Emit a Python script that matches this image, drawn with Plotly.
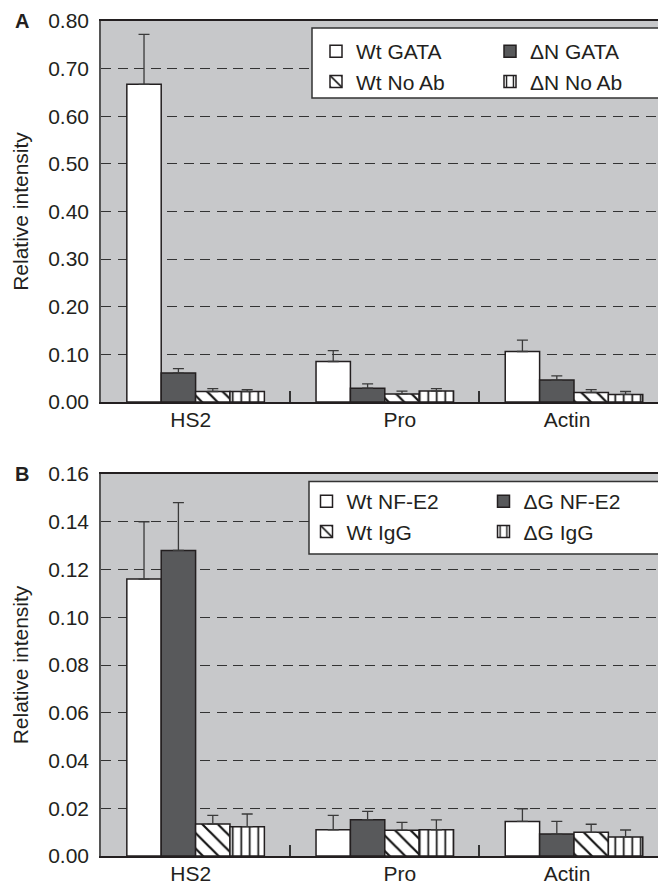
import plotly.graph_objects as go

# ---------------- data ----------------
categories = ["HS2", "Pro", "Actin"]

# Panel A (GATA)
a_names = ["Wt GATA", "ΔN GATA", "Wt No Ab", "ΔN No Ab"]
a_wt_gata = [0.667, 0.085, 0.106]
a_dn_gata = [0.061, 0.029, 0.046]
a_wt_noab = [0.022, 0.017, 0.020]
a_dn_noab = [0.022, 0.023, 0.016]
a_wt_gata_err = [0.105, 0.023, 0.024]
a_dn_gata_err = [0.009, 0.009, 0.009]
a_wt_noab_err = [0.006, 0.006, 0.006]
a_dn_noab_err = [0.004, 0.005, 0.006]

# Panel B (NF-E2)
b_names = ["Wt NF-E2", "ΔG NF-E2", "Wt IgG", "ΔG IgG"]
b_wt_nfe2 = [0.116, 0.011, 0.0145]
b_dg_nfe2 = [0.128, 0.0152, 0.0092]
b_wt_igg = [0.0134, 0.0108, 0.0099]
b_dg_igg = [0.0123, 0.0110, 0.0080]
b_wt_nfe2_err = [0.024, 0.006, 0.0053]
b_dg_nfe2_err = [0.020, 0.0035, 0.0053]
b_wt_igg_err = [0.0036, 0.0033, 0.0034]
b_dg_igg_err = [0.0053, 0.0041, 0.0029]

a_ticks = [0, 0.1, 0.2, 0.3, 0.4, 0.5, 0.6, 0.7, 0.8]
b_ticks = [0, 0.02, 0.04, 0.06, 0.08, 0.10, 0.12, 0.14, 0.16]

# small label offsets (category label positions as printed)
label_offsets = [-0.026, 0.08, -0.037]

# ---------------- styles ----------------
FONT = "Liberation Sans, Arial, Helvetica, sans-serif"
TXT = "#231f20"
BG = "#c7c8ca"
DARK = "#58595b"
W, H = 658, 884
ML, MR, MT, MB = 101, 0, 21, 28
plot_w = W - ML - MR
plot_h = H - MT - MB
cat_px = 189.2

def py(ypix):
    return (H - MB - ypix) / plot_h

def px(xpix):
    return (xpix - ML) / plot_w

styles = [
    dict(color="white", pattern=None),
    dict(color=DARK, pattern=None),
    dict(color="white", pattern=dict(shape="\\", fgcolor="#111", bgcolor="white", size=11, solidity=0.2)),
    dict(color="white", pattern=dict(shape="|", fgcolor="#111", bgcolor="white", size=8.5, solidity=0.2)),
]

x = list(range(len(categories)))

fig = go.Figure()

def add_panel(names, vals, errs, xa, ya, legends):
    for i, (nm, v, e) in enumerate(zip(names, vals, errs)):
        st = styles[i]
        marker = dict(color=st["color"], line=dict(color=TXT, width=1.5))
        if st["pattern"]:
            marker["pattern"] = st["pattern"]
        fig.add_trace(go.Bar(
            x=x, y=v, name=nm, xaxis=xa, yaxis=ya,
            marker=marker,
            error_y=dict(type="data", symmetric=False, array=e, arrayminus=[0] * len(e),
                         color="#3a3a3a", thickness=1.3, width=5.5),
            legend=legends[i % 2],
            legendgroup=nm,
        ))

add_panel(a_names, [a_wt_gata, a_dn_gata, a_wt_noab, a_dn_noab],
          [a_wt_gata_err, a_dn_gata_err, a_wt_noab_err, a_dn_noab_err], "x", "y", ["legend", "legend2"])
add_panel(b_names, [b_wt_nfe2, b_dg_nfe2, b_wt_igg, b_dg_igg],
          [b_wt_nfe2_err, b_dg_nfe2_err, b_wt_igg_err, b_dg_igg_err], "x2", "y2", ["legend3", "legend4"])

xr = [-0.5, -0.5 + plot_w / cat_px]
xaxis_common = dict(
    automargin=False,
    range=xr, showgrid=False, zeroline=False,
    showline=True, linecolor=TXT, linewidth=2, mirror=True,
    tickmode="array", tickvals=[i + o for i, o in zip(x, label_offsets)], ticktext=categories,
    ticks="", tickfont=dict(family=FONT, size=21, color=TXT),
    ticklabelstandoff=-2,
    minor=dict(tickmode="array", tickvals=[0.5, 1.5], ticks="inside", ticklen=11,
               tickwidth=2, tickcolor="#333"),
)
yaxis_common = dict(
    automargin=False,
    showgrid=True, gridcolor="#333", gridwidth=1.4, griddash="10px,6.5px",
    zeroline=False, showline=True, linecolor="#555", linewidth=1.5,
    ticks="", tickformat=".2f", tickfont=dict(family=FONT, size=21, color=TXT),
    ticklabelstandoff=6,
    title=dict(text="Relative intensity", font=dict(family=FONT, size=21, color=TXT), standoff=14),
)

leg_common = dict(orientation="v", bgcolor="rgba(0,0,0,0)", borderwidth=0,
                  font=dict(family=FONT, size=21, color=TXT),
                  xanchor="left", yanchor="top", traceorder="normal")

fig.update_layout(
    template="none",
    width=W, height=H,
    margin=dict(l=ML, r=MR, t=MT, b=MB, pad=0, autoexpand=False),
    paper_bgcolor="white", plot_bgcolor=BG,
    barmode="group", bargap=0.273, bargroupgap=0,
    xaxis=dict(xaxis_common, anchor="y"),
    yaxis=dict(yaxis_common, domain=[py(402), 1], range=[0, 0.8], tickvals=a_ticks),
    xaxis2=dict(xaxis_common, anchor="y2"),
    yaxis2=dict(yaxis_common, domain=[0, py(474)], range=[0, 0.16], tickvals=b_ticks),
    legend=dict(leg_common, x=px(316), y=py(31), tracegroupgap=0),
    legend2=dict(leg_common, x=px(490), y=py(31), tracegroupgap=0),
    legend3=dict(leg_common, x=px(306.5), y=py(481), tracegroupgap=8),
    legend4=dict(leg_common, x=px(483.5), y=py(481), tracegroupgap=8),
    showlegend=True,
    shapes=[
        dict(type="rect", xref="paper", yref="paper", layer="above",
             x0=px(312), x1=1.1, y0=py(98), y1=py(28),
             fillcolor="white", line=dict(color="#333", width=1.5)),
        dict(type="rect", xref="paper", yref="paper", layer="above",
             x0=px(309), x1=1.1, y0=py(554), y1=py(481.5),
             fillcolor="white", line=dict(color="#333", width=1.5)),
    ],
    annotations=[
        dict(text="<b>A</b>", xref="paper", yref="paper", x=px(13), y=py(21),
             xanchor="left", yanchor="middle", showarrow=False,
             font=dict(family=FONT, size=20, color=TXT)),
        dict(text="<b>B</b>", xref="paper", yref="paper", x=px(13), y=py(474),
             xanchor="left", yanchor="middle", showarrow=False,
             font=dict(family=FONT, size=20, color=TXT)),
    ],
)

fig.write_html(
    "out.html",
    config={"displayModeBar": False},
    post_script="document.body.style.margin='0px';document.body.style.padding='0px';"
                "document.body.style.overflow='hidden';",
)
